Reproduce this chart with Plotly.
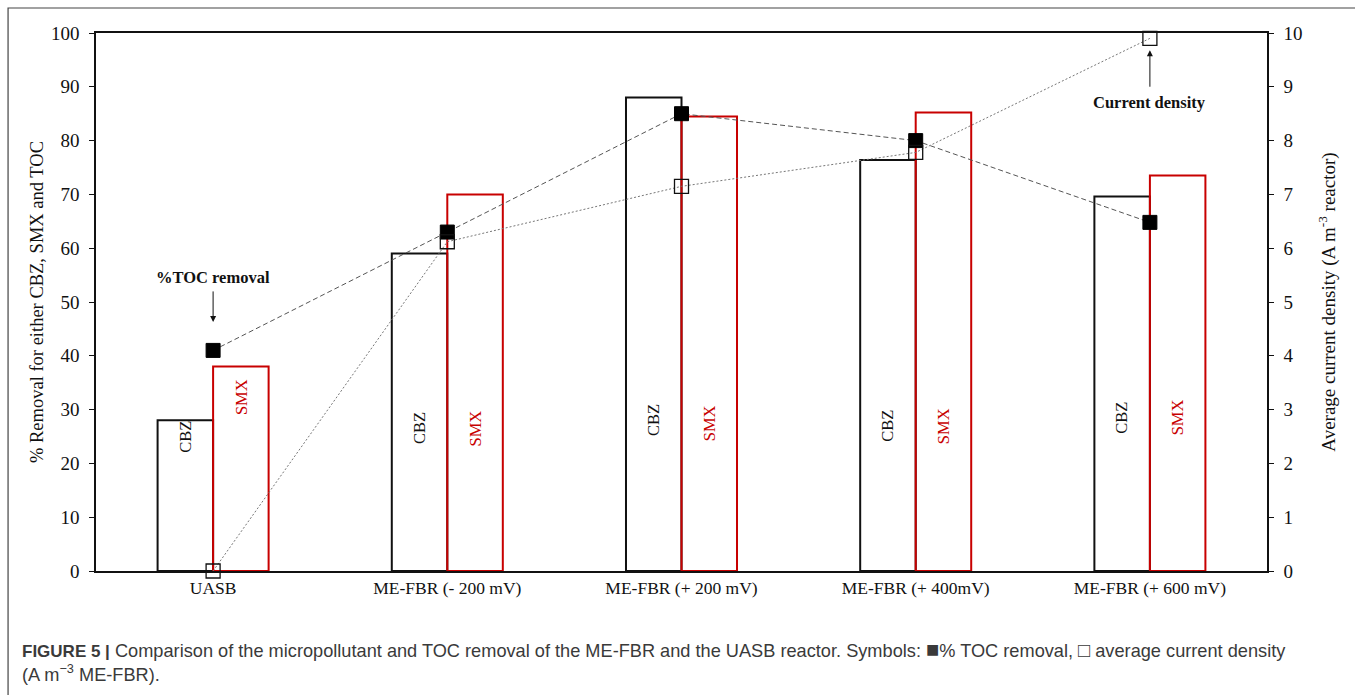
import plotly.graph_objects as go

# Reactor configurations
categories = ["UASB", "ME-FBR (- 200 mV)", "ME-FBR (+ 200 mV)", "ME-FBR (+ 400mV)", "ME-FBR (+ 600 mV)"]

# % removal (left axis)
cbz_removal = [28.0, 59.0, 88.0, 76.4, 69.6]
smx_removal = [38.0, 70.0, 84.5, 85.2, 73.5]
toc_removal = [41.0, 63.0, 85.0, 80.0, 64.8]

# Average current density, A m-3 reactor (right axis)
current_density = [0.0, 6.12, 7.15, 7.78, 9.9]

# Vertical position (% axis) of the rotated labels inside each bar
cbz_label_y = [25.0, 26.5, 28.0, 27.0, 28.5]
smx_label_y = [32.3, 26.5, 27.5, 27.0, 28.5]

SERIF = "Liberation Serif"
BAR_W = 0.237

fig = go.Figure()

fig.add_trace(go.Bar(
    x=categories, y=cbz_removal, name="CBZ",
    width=BAR_W, offset=-BAR_W,
    marker=dict(color="rgba(255,255,255,0)", line=dict(color="#111111", width=2)),
))
fig.add_trace(go.Bar(
    x=categories, y=smx_removal, name="SMX",
    width=BAR_W, offset=0,
    marker=dict(color="rgba(255,255,255,0)", line=dict(color="#c80000", width=2)),
))

fig.add_trace(go.Scatter(
    x=categories, y=current_density, yaxis="y2", name="Current density",
    mode="lines+markers", cliponaxis=False,
    line=dict(color="#777777", width=1, dash="2px,2px"),
    marker=dict(symbol="square-open", size=14, color="#111111", line=dict(width=1.3, color="#111111")),
))
fig.add_trace(go.Scatter(
    x=categories, y=toc_removal, name="%TOC removal",
    mode="lines+markers", cliponaxis=False,
    line=dict(color="#555555", width=1, dash="5px,3px"),
    marker=dict(symbol="square", size=14, color="#000000", line=dict(width=1, color="#000000")),
))

annotations = []
for i, cat in enumerate(categories):
    annotations.append(dict(
        x=i - BAR_W / 2, y=cbz_label_y[i], xref="x", yref="y", text="CBZ",
        textangle=-90, showarrow=False, font=dict(family=SERIF, size=16.5, color="#111111"),
    ))
    annotations.append(dict(
        x=i + BAR_W / 2, y=smx_label_y[i], xref="x", yref="y", text="SMX",
        textangle=-90, showarrow=False, font=dict(family=SERIF, size=16.5, color="#c80000"),
    ))

# Callouts
annotations += [
    dict(x=0, y=54.5, xref="x", yref="y", text="<b>%TOC removal</b>", showarrow=False,
         font=dict(family=SERIF, size=16.5, color="#111111")),
    dict(x=0, y=46.3, xref="x", yref="y", text="", showarrow=True, ax=0, ay=-32,
         arrowhead=2, arrowsize=1.2, arrowwidth=1, arrowcolor="#111111", standoff=0),
    dict(x=4, y=8.70, xref="x", yref="y2", text="<b>Current density</b>", showarrow=False,
         font=dict(family=SERIF, size=16.5, color="#111111")),
    dict(x=4, y=9.68, xref="x", yref="y2", text="", showarrow=True, ax=0, ay=38,
         arrowhead=2, arrowsize=1.2, arrowwidth=1, arrowcolor="#111111", standoff=0),
]

# Figure caption
annotations.append(dict(
    x=-0.0649, y=-0.119, xref="paper", yref="paper", xanchor="left", yanchor="top", align="left",
    text=("<span style='font-size:17px'><b>FIGURE 5 |</b></span> Comparison of the micropollutant and TOC removal "
          "of the ME-FBR and the UASB reactor. "
          "Symbols: <span style='font-size:22px'>\u25a0</span>% TOC removal, "
          "<span style='font-size:20px'>\u25a1</span> average current density<br>(A m<sup>\u22123</sup> ME-FBR)."),
    showarrow=False, font=dict(family="Liberation Sans", size=18.2, color="#3a3a3a"),
))

fig.update_layout(
    width=1355, height=695,
    margin=dict(l=96, r=88, t=33, b=124),
    paper_bgcolor="white", plot_bgcolor="white",
    showlegend=False, barmode="overlay",
    font=dict(family=SERIF, color="#111111"),
    annotations=annotations,
    shapes=[dict(
        type="rect", xref="paper", yref="paper",
        x0=-0.0751, x1=1.08, y0=-0.25, y1=1.0465,
        line=dict(color="#444444", width=1.2), fillcolor="rgba(0,0,0,0)", layer="below",
    )],
    xaxis=dict(
        type="category", range=[-0.5, 4.5],
        showline=True, linecolor="#111111", linewidth=1.5, mirror=True,
        ticks="", showgrid=False, tickfont=dict(family=SERIF, size=17.5, color="#111111"),
    ),
    yaxis=dict(
        range=[0, 100], dtick=10, tick0=0,
        showline=True, linecolor="#111111", linewidth=1.5,
        ticks="outside", ticklen=5, tickwidth=1.2, tickcolor="#111111",
        ticklabelstandoff=6,
        showgrid=False, zeroline=False,
        tickfont=dict(family=SERIF, size=19, color="#111111"),
        title=dict(text="% Removal for either CBZ, SMX and TOC",
                   font=dict(family=SERIF, size=18.5, color="#111111"), standoff=2),
    ),
    yaxis2=dict(
        range=[0, 10], dtick=1, tick0=0, overlaying="y", side="right",
        showline=True, linecolor="#111111", linewidth=1.5,
        ticks="outside", ticklen=5, tickwidth=1.2, tickcolor="#111111",
        ticklabelstandoff=6,
        showgrid=False, zeroline=False,
        tickfont=dict(family=SERIF, size=19, color="#111111"),
        title=dict(text="Average current density (A m<sup>-3</sup> reactor)",
                   font=dict(family=SERIF, size=19, color="#111111"), standoff=20),
    ),
)

fig.write_html("out.html")
